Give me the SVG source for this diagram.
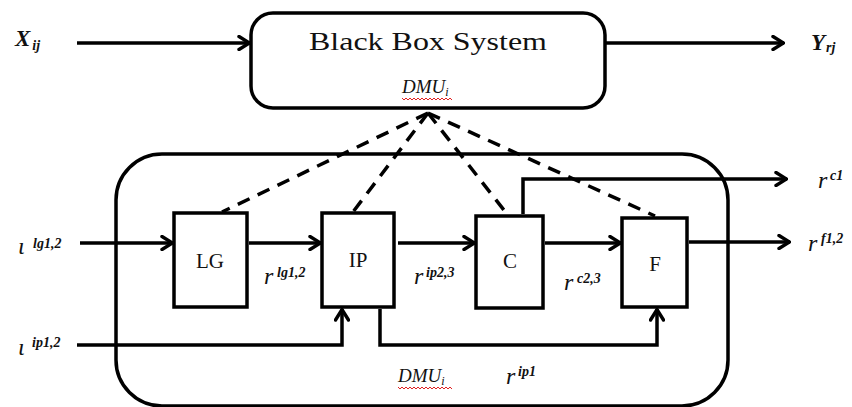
<svg xmlns="http://www.w3.org/2000/svg" width="852" height="407" viewBox="0 0 852 407">
  <defs>
    <marker id="arrow" viewBox="0 0 14 16" refX="13" refY="8" markerWidth="14" markerHeight="16" markerUnits="userSpaceOnUse" orient="auto">
      <path d="M2,1.5 L12.5,8 L2,14.5" fill="none" stroke="#000" stroke-width="3.4" stroke-linejoin="miter" stroke-linecap="round"/>
    </marker>
    <style>
      .box { fill: #fff; stroke: #000; stroke-width: 3.5; }
      .frame { fill: none; stroke: #000; stroke-width: 3.5; }
      .flow { fill: none; stroke: #000; stroke-width: 3.5; marker-end: url(#arrow); }
      .dash { fill: none; stroke: #000; stroke-width: 3.5; stroke-dasharray: 13 9; }
      .title { font-family: "Liberation Serif", "Times New Roman", serif; font-size: 26px; fill: #111; }
      .lbl { font-family: "Liberation Serif", "Times New Roman", serif; font-size: 21px; fill: #111; }
      .dmu { font-family: "Liberation Serif", "Times New Roman", serif; font-style: italic; font-size: 19px; fill: #111; }
      .var { font-family: "Liberation Serif", "Times New Roman", serif; font-style: italic; font-weight: bold; font-size: 23px; fill: #111; }
      .base { font-family: "Liberation Serif", "Times New Roman", serif; font-style: italic; font-size: 24px; fill: #111; }
      .sup { font-family: "Liberation Serif", "Times New Roman", serif; font-style: italic; font-weight: bold; font-size: 14px; fill: #111; }
      .sub { font-family: "Liberation Serif", "Times New Roman", serif; font-style: italic; font-weight: bold; font-size: 14px; fill: #111; }
      .squiggle { fill: none; stroke: #e02020; stroke-width: 1; }
    </style>
  </defs>

  <!-- outer process frame -->
  <g id="dmu-frame">
    <rect class="frame" x="116" y="154" width="612" height="252" rx="46" ry="46"/>
  </g>

  <!-- connectors -->
  <g id="connectors">
    <!-- black box input / output -->
    <line class="flow" x1="77" y1="43" x2="250" y2="43"/>
    <line class="flow" x1="605" y1="43" x2="784" y2="43"/>

    <!-- dashed links from sub-processes to the black box -->
    <line class="dash" x1="428" y1="113" x2="222" y2="212"/>
    <line class="dash" x1="428" y1="113" x2="353" y2="212"/>
    <line class="dash" x1="428" y1="113" x2="507" y2="214"/>
    <line class="dash" x1="428" y1="113" x2="655" y2="216"/>

    <!-- main chain -->
    <line class="flow" x1="80" y1="243" x2="173" y2="243"/>
    <line class="flow" x1="249" y1="243" x2="321" y2="243"/>
    <line class="flow" x1="398" y1="243" x2="475" y2="243"/>
    <line class="flow" x1="545" y1="243" x2="621" y2="243"/>
    <line class="flow" x1="689" y1="242" x2="790" y2="242"/>

    <!-- C output branch -->
    <polyline class="flow" points="523,214 523,179 787,179"/>

    <!-- i^ip input into IP -->
    <polyline class="flow" points="77,345 342,345 342,309"/>

    <!-- IP to F bypass -->
    <polyline class="flow" points="380,309 380,345 657,345 657,309"/>
  </g>

  <!-- black box system -->
  <g id="black-box">
    <rect class="box" x="251" y="13" width="354" height="95" rx="22" ry="22"/>
    <text class="title" x="309" y="50" textLength="238" lengthAdjust="spacingAndGlyphs">Black Box System</text>
    <text class="dmu" x="402" y="93">DMU<tspan font-size="12" dy="3">i</tspan></text>
    <path class="squiggle" d="M402,98 l2,2 l2,-2 l2,2 l2,-2 l2,2 l2,-2 l2,2 l2,-2 l2,2 l2,-2 l2,2 l2,-2 l2,2 l2,-2 l2,2 l2,-2 l2,2 l2,-2 l2,2 l2,-2 l2,2 l2,-2 l2,2 l2,-2 l2,2"/>
  </g>

  <g id="node-lg">
    <rect class="box" x="174" y="213" width="73" height="94"/>
    <text class="lbl" x="210" y="268" text-anchor="middle">LG</text>
  </g>

  <g id="node-ip">
    <rect class="box" x="322" y="213" width="72" height="94"/>
    <text class="lbl" x="358" y="267" text-anchor="middle">IP</text>
  </g>

  <g id="node-c">
    <rect class="box" x="476" y="216" width="67" height="92"/>
    <text class="lbl" x="510" y="268" text-anchor="middle">C</text>
  </g>

  <g id="node-f">
    <rect class="box" x="622" y="218" width="65" height="89"/>
    <text class="lbl" x="655" y="271" text-anchor="middle">F</text>
  </g>

  <!-- variable labels -->
  <g id="labels">
    <text class="var" x="15" y="46">X<tspan class="sub" dx="2" dy="4">ij</tspan></text>
    <text class="var" x="811" y="50">Y<tspan class="sub" dx="1" dy="2">rj</tspan></text>

    <text class="base" x="18" y="254">ι</text>
    <text class="sup" x="33" y="248">lg1,2</text>
    <text class="base" x="18" y="355">ι</text>
    <text class="sup" x="32" y="347">ip1,2</text>

    <text class="base" x="264" y="284">r</text>
    <text class="sup" x="277" y="277">lg1,2</text>
    <text class="base" x="414" y="284">r</text>
    <text class="sup" x="426" y="277">ip2,3</text>
    <text class="base" x="564" y="290">r</text>
    <text class="sup" x="577" y="283">c2,3</text>
    <text class="base" x="506" y="384">r</text>
    <text class="sup" x="518" y="376">ip1</text>
    <text class="base" x="818" y="188">r</text>
    <text class="sup" x="830" y="180">c1</text>
    <text class="base" x="808" y="251">r</text>
    <text class="sup" x="821" y="243">f1,2</text>

    <text class="dmu" x="398" y="382">DMU<tspan font-size="12" dy="3">i</tspan></text>
    <path class="squiggle" d="M398,387 l2,2 l2,-2 l2,2 l2,-2 l2,2 l2,-2 l2,2 l2,-2 l2,2 l2,-2 l2,2 l2,-2 l2,2 l2,-2 l2,2 l2,-2 l2,2 l2,-2 l2,2 l2,-2 l2,2 l2,-2 l2,2 l2,-2 l2,2 l2,-2 l2,2"/>
  </g>
</svg>
